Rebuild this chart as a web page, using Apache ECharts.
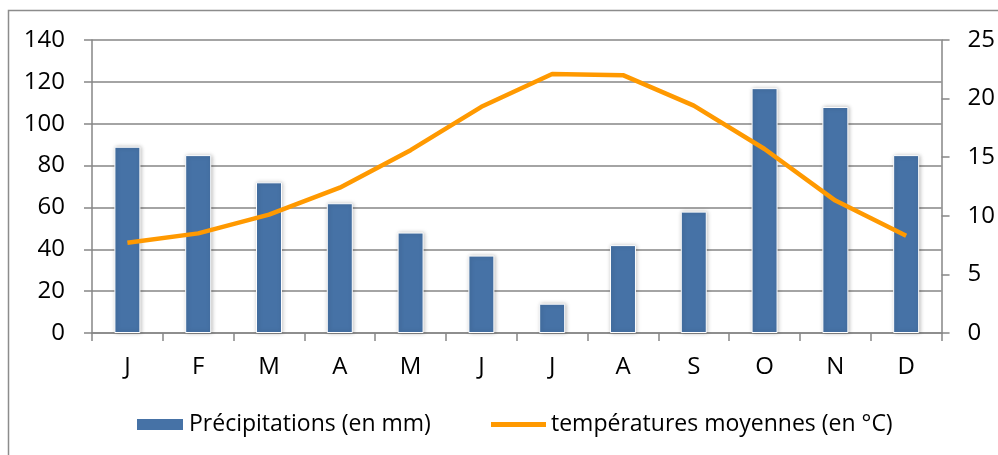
<!DOCTYPE html>
<html><head><meta charset="utf-8">
<script src="https://cdn.jsdelivr.net/npm/echarts@6/dist/echarts.min.js"></script>
<style>html,body{margin:0;padding:0;background:#fff}#c{width:998px;height:455px}</style>
</head><body><div id="c"></div>
<script>
const months = ['J','F','M','A','M','J','J','A','S','O','N','D'];
const precipitation = [89, 85, 72, 62, 48, 37, 14, 42, 58, 117, 108, 85];
const temperature = [7.7, 8.5, 10.1, 12.4, 15.6, 19.3, 22.1, 22.0, 19.4, 15.7, 11.3, 8.3];
const leftTicks = {min: 0, max: 140, interval: 20};
const rightTicks = {min: 0, max: 25, interval: 5};

const FONT = '"Open Sans", sans-serif';
const axisGray = '#868686';
const chart = echarts.init(document.getElementById('c'), null, {renderer: 'canvas'});
chart.setOption({
  animation: false,
  textStyle: {fontFamily: FONT},
  graphic: [{type: 'rect', shape: {x: 8.5, y: 10.5, width: 1000, height: 460}, style: {fill: 'none', stroke: '#8c8c8c', lineWidth: 1.5}, z: -1}],
  grid: {left: 92, right: 56, top: 40, bottom: 122},
  legend: [
    {left: 135, top: 413, padding: 0, itemWidth: 48, itemHeight: 13, itemGap: 6, icon: 'rect',
     textStyle: {fontFamily: FONT, fontSize: 23, color: '#000'}, data: ['Précipitations (en mm)']},
    {left: 491, top: 413, padding: 0, itemWidth: 55, itemHeight: 5, itemGap: 4, icon: 'rect',
     textStyle: {fontFamily: FONT, fontSize: 23, color: '#000'}, data: ['températures moyennes (en °C)']}
  ],
  xAxis: {
    type: 'category', data: months, boundaryGap: true,
    axisLine: {lineStyle: {color: axisGray, width: 1.5}},
    axisTick: {show: true, length: 8, lineStyle: {color: axisGray, width: 1.5}},
    axisLabel: {color: '#000', fontSize: 24, fontFamily: FONT, margin: 22}
  },
  yAxis: [
    {type: 'value', min: leftTicks.min, max: leftTicks.max, interval: leftTicks.interval,
     axisLine: {show: true, lineStyle: {color: axisGray, width: 1.5}},
     axisTick: {show: true, length: 8, lineStyle: {color: axisGray, width: 1.5}},
     splitLine: {lineStyle: {color: axisGray, width: 1.5}},
     axisLabel: {color: '#000', fontSize: 24, fontFamily: FONT, margin: 27}},
    {type: 'value', position: 'right', min: rightTicks.min, max: rightTicks.max, interval: rightTicks.interval,
     axisLine: {show: true, lineStyle: {color: axisGray, width: 1.5}},
     axisTick: {show: true, length: 8, lineStyle: {color: axisGray, width: 1.5}},
     splitLine: {show: false},
     axisLabel: {color: '#000', fontSize: 24, fontFamily: FONT, margin: 26}}
  ],
  series: [
    {name: 'Précipitations (en mm)', type: 'bar', data: precipitation, yAxisIndex: 0, barWidth: 26,
     itemStyle: {color: '#4672a6', borderColor: '#ffffff', borderWidth: 1, shadowColor: 'rgba(0,0,0,0.25)', shadowBlur: 4, shadowOffsetX: 1, shadowOffsetY: 0}},
    {name: 'températures moyennes (en °C)', type: 'line', data: temperature, yAxisIndex: 1,
     symbol: 'none', lineStyle: {color: '#ff9900', width: 4.5}, itemStyle: {color: '#ff9900'}, z: 5}
  ]
});
</script></body></html>
